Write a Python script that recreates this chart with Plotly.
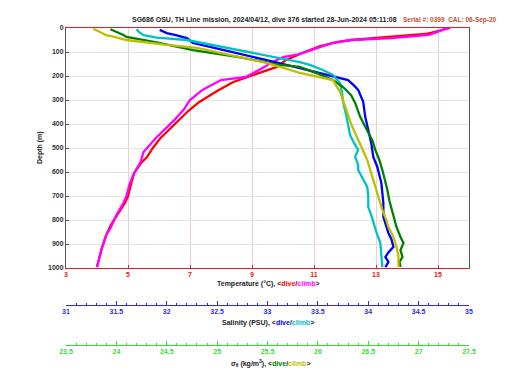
import plotly.graph_objects as go

# ---------------- data ----------------
temp_dive_depth = [2, 10, 25, 40, 50, 58, 75, 100, 133, 162, 190, 225, 260, 308, 345, 383, 420, 458,
                   500, 540, 558, 604, 650, 700, 729, 760, 787, 820, 862, 920, 996]
temp_dive = [15.3, 15.1, 14.6, 13.3, 12.2, 11.8, 11.2, 10.7, 10.1, 9.8, 9.2, 8.4, 7.9, 7.3, 6.95, 6.65,
             6.35, 6.05, 5.8, 5.6, 5.45, 5.2, 5.1, 5.0, 4.9, 4.75, 4.6, 4.45, 4.3, 4.15, 4.0]

temp_climb_depth = [0, 5, 15, 29, 42, 50, 62, 75, 92, 110, 121, 140, 170, 204, 217, 258, 300, 340, 383,
                    420, 458, 517, 560, 604, 650, 700, 729, 787, 830, 862, 920, 996]
temp_climb = [15.4, 15.2, 15.0, 14.7, 13.5, 12.2, 11.6, 11.3, 10.9, 10.5, 10.0, 9.7, 9.3, 8.8, 8.0, 7.4,
              7.0, 6.8, 6.5, 6.2, 5.9, 5.5, 5.4, 5.2, 5.05, 4.95, 4.85, 4.6, 4.45, 4.3, 4.15, 4.0]

sal_dive_depth = [8, 21, 29, 42, 62, 80, 108, 130, 160, 187, 217, 240, 258, 308, 370, 425, 480, 537,
                  579, 646, 700, 729, 787, 830, 854, 880, 912, 935, 954, 975, 996]
sal_dive = [31.93, 32.0, 32.08, 32.2, 32.26, 32.45, 32.72, 32.95, 33.25, 33.52, 33.8, 33.86, 33.9, 33.95,
            33.97, 34.0, 34.03, 34.05, 34.09, 34.13, 34.14, 34.15, 34.15, 34.18, 34.2, 34.23, 34.25,
            34.2, 34.17, 34.2, 34.17]

sal_climb_depth = [5, 15, 30, 40, 50, 70, 90, 110, 125, 142, 154, 175, 196, 229, 270, 308, 362, 400,
                   446, 480, 508, 537, 570, 592, 630, 662, 700, 746, 780, 812, 850, 896, 940, 996]
sal_climb = [31.7, 31.72, 31.77, 31.9, 32.2, 32.45, 32.7, 32.95, 33.12, 33.32, 33.42, 33.55, 33.65,
             33.72, 33.74, 33.75, 33.78, 33.8, 33.82, 33.86, 33.9, 33.87, 33.9, 33.9, 33.95, 33.99, 34.0,
             34.0, 34.03, 34.05, 34.08, 34.12, 34.13, 34.14]

dens_dive_depth = [5, 15, 29, 37, 60, 92, 120, 154, 162, 190, 217, 246, 280, 312, 370, 420, 467, 508,
                   550, 592, 640, 675, 720, 771, 829, 871, 896, 925, 954, 975, 996]
dens_dive = [23.94, 24.0, 24.07, 24.1, 24.4, 24.76, 25.2, 25.62, 25.82, 26.0, 26.15, 26.25, 26.33,
             26.37, 26.42, 26.48, 26.54, 26.57, 26.61, 26.64, 26.67, 26.69, 26.71, 26.74, 26.78, 26.82,
             26.85, 26.82, 26.84, 26.81, 26.82]

dens_climb_depth = [3, 10, 20, 30, 37, 50, 70, 83, 110, 146, 187, 217, 267, 300, 350, 400, 454, 508,
                    550, 592, 662, 710, 758, 800, 829, 871, 912, 950, 996]
dens_climb = [23.77, 23.8, 23.85, 23.9, 23.98, 24.1, 24.5, 24.8, 25.1, 25.5, 25.82, 26.15, 26.22,
              26.25, 26.29, 26.33, 26.39, 26.45, 26.49, 26.52, 26.57, 26.6, 26.64, 26.68, 26.7, 26.75,
              26.78, 26.8, 26.8]

temp_ticks = [3, 5, 7, 9, 11, 13, 15]
sal_ticks = [31, 31.5, 32, 32.5, 33, 33.5, 34, 34.5, 35]
sal_labels = ["31", "31.5", "32", "32.5", "33", "33.5", "34", "34.5", "35"]
dens_ticks = [23.5, 24, 24.5, 25, 25.5, 26, 26.5, 27, 27.5]
dens_labels = ["23.5", "24", "24.5", "25", "25.5", "26", "26.5", "27", "27.5"]
depth_ticks = list(range(0, 1001, 100))

title_text = "SG686 OSU, TH Line mission, 2024/04/12, dive 376 started 28-Jun-2024 05:11:08"
serial_text = "Serial #: 0399  CAL: 06-Sep-20"

# ---------------- colours ----------------
RED, MAG = "#ff0000", "#ff00ff"
BLUE, CYAN = "#0000ff", "#00c0c8"
GREEN, YEL = "#008000", "#bfbf00"
TAX, SAX, DAX = "#e02020", "#2f2fd0", "#33dd33"
FONT = "Liberation Sans"

fig = go.Figure()
LW = 2.3
fig.add_trace(go.Scatter(x=sal_dive, y=sal_dive_depth, xaxis="x2", yaxis="y", mode="lines",
                         line=dict(color=BLUE, width=LW)))
fig.add_trace(go.Scatter(x=sal_climb, y=sal_climb_depth, xaxis="x2", yaxis="y", mode="lines",
                         line=dict(color=CYAN, width=LW)))
fig.add_trace(go.Scatter(x=dens_dive, y=dens_dive_depth, xaxis="x3", yaxis="y", mode="lines",
                         line=dict(color=GREEN, width=LW)))
fig.add_trace(go.Scatter(x=dens_climb, y=dens_climb_depth, xaxis="x3", yaxis="y", mode="lines",
                         line=dict(color=YEL, width=LW)))
fig.add_trace(go.Scatter(x=temp_dive, y=temp_dive_depth, xaxis="x", yaxis="y", mode="lines",
                         line=dict(color=RED, width=LW)))
fig.add_trace(go.Scatter(x=temp_climb, y=temp_climb_depth, xaxis="x", yaxis="y", mode="lines",
                         line=dict(color=MAG, width=LW)))

# The page body adds an 8px offset; target pixel coordinates are from the reference.
OFF = 8
# paper: top at y=28px, bottom at y=370px (342 px tall)
def py(pix):
    return (370 - pix) / 342.0

def px(pix):
    return (pix - 66) / 403.0

fig.update_layout(
    width=520, height=390,
    margin=dict(l=66 - OFF, r=51 + OFF, t=28 - OFF, b=20 + OFF),
    paper_bgcolor="white", plot_bgcolor="white",
    showlegend=False,
    font=dict(family=FONT, size=7, color="#333333"),
    xaxis=dict(range=[3, 16], tickvals=temp_ticks, ticks="inside", ticklen=3,
               tickcolor=TAX, linecolor=TAX, linewidth=1, showline=True, mirror=True,
               tickfont=dict(color=TAX, size=7, family=FONT, weight="bold"),
               showgrid=True, gridcolor="#f3cccc", gridwidth=1, zeroline=False, domain=[0, 1]),
    xaxis2=dict(overlaying="x", anchor="free", position=py(305), range=[31, 35], side="bottom",
                tickvals=sal_ticks, ticktext=sal_labels, ticks="inside", ticklen=4,
                tickcolor=SAX, linecolor=SAX, showline=True, showgrid=False, zeroline=False,
                tickfont=dict(color=SAX, size=7, family=FONT, weight="bold"),
                minor=dict(dtick=0.1, ticks="inside", ticklen=2, tickcolor=SAX, showgrid=False),
                domain=[0, 1]),
    xaxis3=dict(overlaying="x", anchor="free", position=py(345), range=[23.5, 27.5], side="bottom",
                tickvals=dens_ticks, ticktext=dens_labels, ticks="inside", ticklen=4,
                tickcolor=DAX, linecolor=DAX, showline=True, showgrid=False, zeroline=False,
                tickfont=dict(color=DAX, size=7, family=FONT, weight="bold"),
                minor=dict(dtick=0.1, ticks="inside", ticklen=2, tickcolor=DAX, showgrid=False),
                domain=[0, 1]),
    yaxis=dict(range=[1000, 0], domain=[py(268), 1], tickvals=depth_ticks, ticks="inside",
               ticklen=3, tickcolor="#555555", linecolor="#555555", showline=True, mirror=True,
               tickfont=dict(color="#333333", size=7, family=FONT, weight="bold"),
               showgrid=True, gridcolor="#e4e4e4", zeroline=False),
)

ann = []
ann.append(dict(text="<b>" + title_text + "</b>", x=px(264), y=py(20), xref="paper", yref="paper",
                showarrow=False, xanchor="center", yanchor="middle",
                font=dict(size=7, color="#222222", family=FONT)))
ann.append(dict(text=serial_text, x=px(450), y=py(20), xref="paper", yref="paper",
                showarrow=False, xanchor="center", yanchor="middle",
                font=dict(size=6.5, color="#c05030", family=FONT, weight="bold")))
ann.append(dict(text="<b>Temperature (°C), &lt;<span style='color:%s'>dive</span>/"
                     "<span style='color:%s'>climb</span>&gt;</b>" % (RED, MAG),
                x=px(268), y=py(284), xref="paper", yref="paper", showarrow=False,
                xanchor="center", yanchor="middle", font=dict(size=7, color="#222222", family=FONT)))
ann.append(dict(text="<b>Salinity (PSU), &lt;<span style='color:%s'>dive</span>/"
                     "<span style='color:%s'>climb</span>&gt;</b>" % (BLUE, CYAN),
                x=px(268), y=py(323), xref="paper", yref="paper", showarrow=False,
                xanchor="center", yanchor="middle", font=dict(size=7, color="#222222", family=FONT)))
ann.append(dict(text="<b>σ<sub>θ</sub> (kg/m<sup>3</sup>), &lt;<span style='color:%s'>dive</span>/"
                     "<span style='color:%s'>climb</span>&gt;</b>" % (GREEN, YEL),
                x=px(270), y=py(363), xref="paper", yref="paper", showarrow=False,
                xanchor="center", yanchor="middle", font=dict(size=7, color="#222222", family=FONT)))
ann.append(dict(text="<b>Depth (m)</b>", x=px(40), y=py(148), xref="paper", yref="paper",
                showarrow=False, xanchor="center", yanchor="middle", textangle=-90,
                font=dict(size=7, color="#222222", family=FONT)))
fig.update_layout(annotations=ann)

fig.write_html("out.html")
